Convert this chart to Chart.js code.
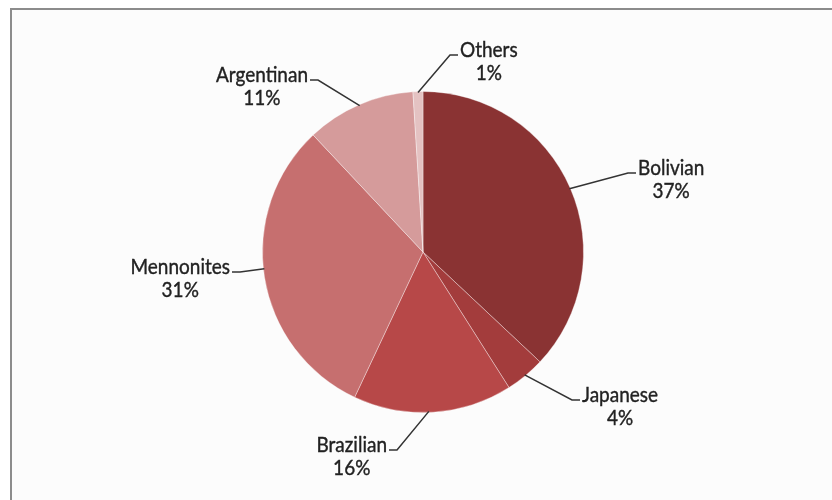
<!DOCTYPE html>
<html>
<head>
<meta charset="utf-8">
<script src="https://cdn.jsdelivr.net/npm/chart.js@4.4.1/dist/chart.umd.min.js"></script>
<style>
  html, body { margin: 0; padding: 0; background: #ffffff; }
  #wrap { position: relative; width: 832px; height: 500px; overflow: hidden; }
  #frame {
    position: absolute; left: 10px; top: 8px; width: 840px; height: 510px;
    border-left: 2px solid #8c8c8c; border-top: 2px solid #8c8c8c;
    background: #fcfcfc;
  }
  #pie { position: absolute; left: 0; top: 0; }
</style>
</head>
<body>
<div id="wrap">
  <div id="frame"></div>
  <canvas id="pie" width="832" height="500"></canvas>
</div>
<script>
"use strict";

/* =========================================================================
  Data
=========================================================================== */
const GROUPS = ["Bolivian", "Japanese", "Brazilian", "Mennonites", "Argentinan", "Others"];
const SHARES = [37, 4, 16, 31, 11, 1];
const SLICE_COLORS = ["#8a3333", "#a33c3c", "#b74848", "#c66f6f", "#d59b9b", "#e4c2c2"];

/* =========================================================================
  Label layout: elbow offset from pie centre, which side the text sits on
=========================================================================== */
const LABEL_LAYOUT = [
  { elbow: [205, -79], side: "right", nudge: 0 },
  { elbow: [149, 148], side: "right", nudge: 0 },
  { elbow: [-26, 198], side: "left", nudge: 1.5 },
  { elbow: [-183, 20], side: "left", nudge: 3 },
  { elbow: [-105, -172], side: "left", nudge: 0 },
  { elbow: [27, -197], side: "right", nudge: 0 },
];

const LABEL_FONT = "19px Lato, 'DejaVu Sans', sans-serif";
const TEXT_STRETCH = 1.13; // the labels use a tall, narrow face
const TEXT_COLOR = "#222222";
const LINE_COLOR = "#333333";

/* =========================================================================
  Leader line plugin
=========================================================================== */
function tallText(ctx, text, x, y) {
  ctx.save();
  ctx.translate(x, y);
  ctx.scale(1, TEXT_STRETCH);
  ctx.fillText(text, 0, 0);
  ctx.strokeText(text, 0, 0);
  ctx.restore();
}

const leaderLabels = {
  id: "leaderLabels",
  afterDatasetsDraw(chart) {
    const { ctx } = chart;
    const arcs = chart.getDatasetMeta(0).data;
    ctx.save();
    ctx.font = LABEL_FONT;
    ctx.textBaseline = "alphabetic";

    arcs.forEach((arc, i) => {
      const { x, y, startAngle, endAngle, outerRadius } = arc.getProps(
        ["x", "y", "startAngle", "endAngle", "outerRadius"], true);
      const layout = LABEL_LAYOUT[i];
      const mid = (startAngle + endAngle) / 2 + (layout.nudge * Math.PI) / 180;
      const ax = x + Math.cos(mid) * (outerRadius - 1);
      const ay = y + Math.sin(mid) * (outerRadius - 1);
      const ex = x + layout.elbow[0];
      const ey = y + layout.elbow[1];
      const dir = layout.side === "right" ? 1 : -1;
      const tx = ex + dir * 8;

      ctx.strokeStyle = LINE_COLOR;
      ctx.lineWidth = 1.5;
      ctx.beginPath();
      ctx.moveTo(ax, ay);
      ctx.lineTo(ex, ey);
      ctx.lineTo(tx, ey);
      ctx.stroke();

      const name = GROUPS[i];
      const pct = `${SHARES[i]}%`;
      const w = ctx.measureText(name).width;
      const cx = tx + dir * (2 + w / 2);
      ctx.textAlign = "center";
      ctx.fillStyle = TEXT_COLOR;
      ctx.strokeStyle = TEXT_COLOR;
      ctx.lineWidth = 0.35;
      tallText(ctx, name, cx, ey + 1.5);
      tallText(ctx, pct, cx, ey + 24.5);
    });
    ctx.restore();
  },
};

/* =========================================================================
  Chart
=========================================================================== */
new Chart(document.getElementById("pie"), {
  type: "pie",
  data: {
    labels: GROUPS,
    datasets: [
      {
        data: SHARES,
        backgroundColor: SLICE_COLORS,
        borderColor: "rgba(255,255,255,0.35)",
        borderWidth: 1,
      },
    ],
  },
  options: {
    responsive: false,
    animation: false,
    layout: { padding: { top: 91, bottom: 87, left: 262, right: 248 } },
    plugins: {
      legend: { display: false },
      tooltip: { enabled: false },
    },
  },
  plugins: [leaderLabels],
});
</script>
</body>
</html>
